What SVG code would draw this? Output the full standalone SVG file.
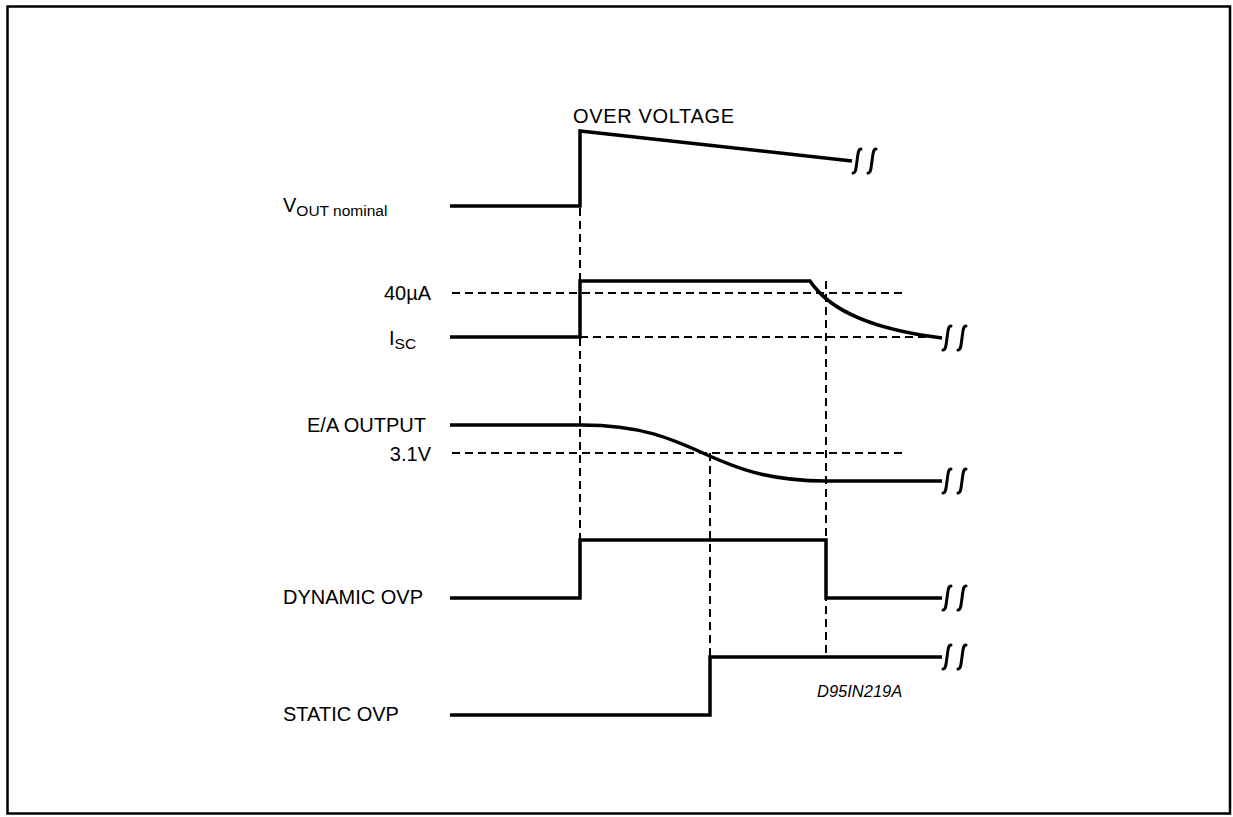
<svg xmlns="http://www.w3.org/2000/svg" xmlns:xlink="http://www.w3.org/1999/xlink" width="1233" height="817" viewBox="0 0 1233 817">
<style>
.sig{fill:none;stroke:#000;stroke-width:3.5;stroke-linejoin:miter}
.dash{fill:none;stroke:#000;stroke-width:2;stroke-dasharray:8,5}
.brk{fill:none;stroke:#000;stroke-width:3;stroke-linecap:round}
.lbl{font-family:"Liberation Sans",Arial,sans-serif;font-size:20px;fill:#000}
.r{text-anchor:end}
.sub{font-size:15.5px}
.code{font-family:"Liberation Sans",Arial,sans-serif;font-size:16.5px;font-style:italic;fill:#000}
</style>
<defs>
<g id="brkmark">
<path class="brk" d="M-4,12 C-1,12 -1,7 0,0 C1,-7 1,-12 4,-12"/>
<path class="brk" d="M11,12 C14,12 14,7 15,0 C16,-7 16,-12 19,-12"/>
</g>
</defs>
<rect x="7.5" y="6.5" width="1222.5" height="807" fill="#fff" stroke="#000" stroke-width="2.5"/>

<g id="guides">
<line class="dash" x1="452" y1="293" x2="903" y2="293"/>
<line class="dash" x1="580" y1="337" x2="940" y2="337"/>
<line class="dash" x1="452" y1="453" x2="903" y2="453"/>
<line class="dash" x1="580" y1="208" x2="580" y2="598"/>
<line class="dash" x1="710" y1="453" x2="710" y2="657"/>
<line class="dash" x1="826" y1="281" x2="826" y2="657"/>
</g>

<g id="vout">
<text class="lbl" x="283" y="212">V<tspan class="sub" dy="4">OUT nominal</tspan></text>
<text class="lbl" x="573" y="123" textLength="161">OVER VOLTAGE</text>
<path class="sig" d="M450,206 H580 V131 L852,161"/>
<use xlink:href="#brkmark" x="857" y="161"/>
</g>

<g id="isc">
<text class="lbl r" x="431" y="300">40µA</text>
<text class="lbl" x="389" y="345">I<tspan class="sub" dy="4">SC</tspan></text>
<path class="sig" d="M450,337 H580 V281 H810 C826,305 860,328 942,338"/>
<use xlink:href="#brkmark" x="947" y="338"/>
</g>

<g id="ea">
<text class="lbl" x="307" y="432">E/A OUTPUT</text>
<text class="lbl r" x="431" y="461">3.1V</text>
<path class="sig" d="M450,425 H582 C700,425 705,481 826,481 H942"/>
<use xlink:href="#brkmark" x="947" y="481"/>
</g>

<g id="dynamic">
<text class="lbl" x="283" y="604">DYNAMIC OVP</text>
<path class="sig" d="M450,598 H580 V540 H826 V598 H942"/>
<use xlink:href="#brkmark" x="947" y="598"/>
</g>

<g id="static">
<text class="lbl" x="283" y="721">STATIC OVP</text>
<path class="sig" d="M450,715 H710 V657 H942"/>
<use xlink:href="#brkmark" x="947" y="657"/>
</g>

<text class="code" x="817" y="697">D95IN219A</text>
</svg>
